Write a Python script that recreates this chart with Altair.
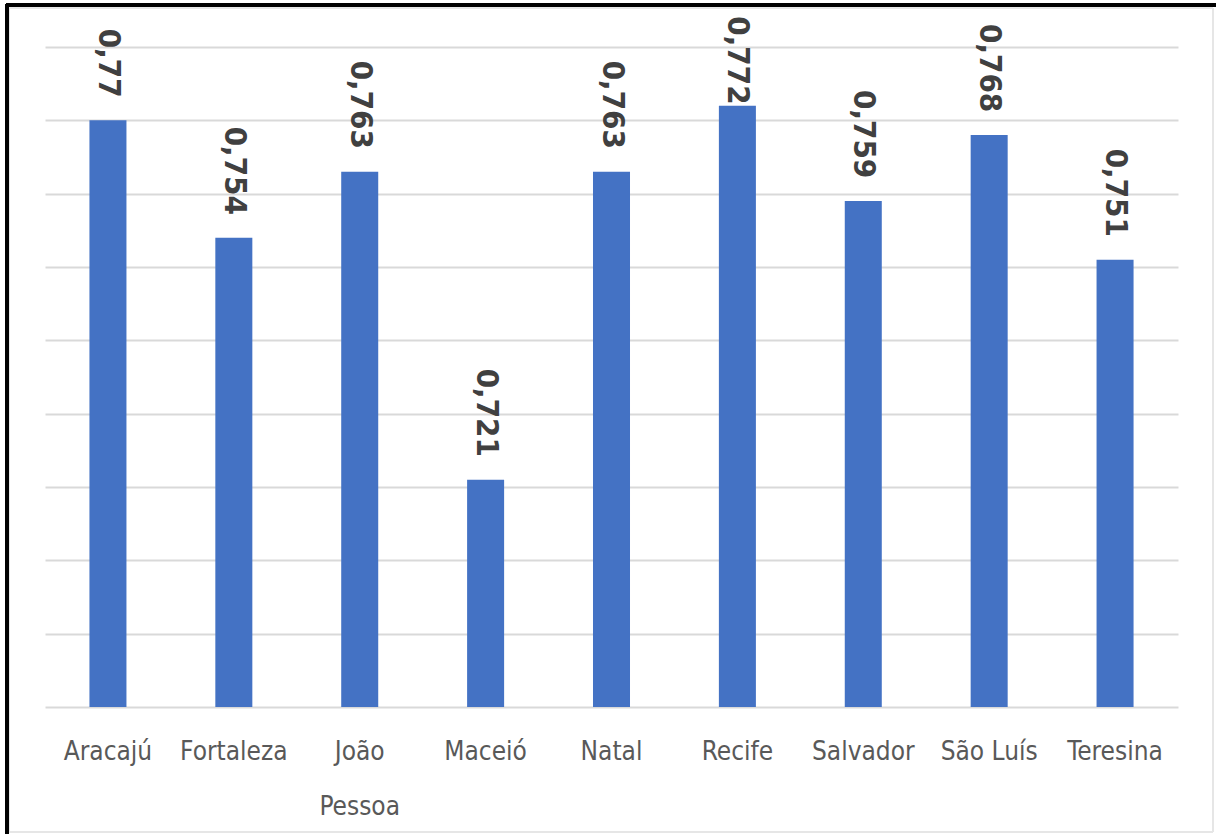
import altair as alt
import pandas as pd

capitais = ["Aracajú", "Fortaleza", "João Pessoa", "Maceió", "Natal",
            "Recife", "Salvador", "São Luís", "Teresina"]
idhm = [0.770, 0.754, 0.763, 0.721, 0.763, 0.772, 0.759, 0.768, 0.751]
rotulos = ["0,77", "0,754", "0,763", "0,721", "0,763", "0,772", "0,759", "0,768", "0,751"]
grade = [0.69, 0.70, 0.71, 0.72, 0.73, 0.74, 0.75, 0.76, 0.77, 0.78]
y_min, y_max = 0.69, 0.78

df = pd.DataFrame({"capital": capitais, "idhm": idhm, "rotulo": rotulos})

FONT = "DejaVu Sans Condensed"

x = alt.X("capital:N", sort=capitais, title=None,
          scale=alt.Scale(paddingInner=0.706, paddingOuter=0.353),
          axis=alt.Axis(labelAngle=0, labelFont=FONT, labelFontSize=26,
                        labelColor="#595959", labelPadding=31, ticks=False,
                        domain=False, grid=False, labelLineHeight=55,
                        labelExpr="datum.label == 'João Pessoa' ? ['João', 'Pessoa'] : datum.label"))
y = alt.Y("idhm:Q", title=None,
          scale=alt.Scale(domain=[y_min, y_max], zero=False, nice=False),
          axis=alt.Axis(values=grade, labels=False, ticks=False, domain=False,
                        grid=True, gridColor="#d9d9d9", gridWidth=2))

bars = alt.Chart(df).mark_bar(color="#4472C4").encode(
    x=x, y=y, y2=alt.datum(y_min)
)

# label end position: a small gap above the bar, kept inside the chart area
labels = alt.Chart(df).transform_calculate(
    pos="min(datum.idhm + 0.0031, 0.7843 - length(datum.rotulo) * 0.00243)"
).mark_text(
    angle=90, align="right", baseline="middle",
    font=FONT, fontSize=31, fontWeight="bold", color="#404040"
).encode(x=alt.X("capital:N", sort=capitais),
         y=alt.Y("pos:Q", scale=alt.Scale(domain=[y_min, y_max], zero=False, nice=False)),
         text="rotulo:N")

# decorative frame (screenshot edges)
frame_gray = alt.Chart(df).mark_rule(color="#e6e6e6", strokeWidth=2)
f1 = frame_gray.encode(x=alt.value(-36), x2=alt.value(1168), y=alt.value(-39))
f2 = frame_gray.encode(x=alt.value(1168), y=alt.value(-39), y2=alt.value(785))
f3 = frame_gray.encode(x=alt.value(-36), y=alt.value(-39), y2=alt.value(785))
f4 = frame_gray.encode(x=alt.value(-36), x2=alt.value(1168), y=alt.value(785))
frame_black = alt.Chart(df).mark_rule(color="#000000", strokeWidth=3)
b1 = frame_black.encode(x=alt.value(-39), x2=alt.value(1171), y=alt.value(-42))
b2 = frame_black.encode(x=alt.value(-38), y=alt.value(-43), y2=alt.value(790))

chart = alt.layer(bars, labels, f1, f2, f3, f4, b1, b2).properties(
    width=1133, height=660,
    autosize=alt.AutoSizeParams(type="none"),
    padding={"left": 45, "top": 47, "right": 38, "bottom": 127},
    background="white"
).configure_view(stroke=None)

chart.save("out.html", embed_options={"renderer": "svg", "actions": False})
